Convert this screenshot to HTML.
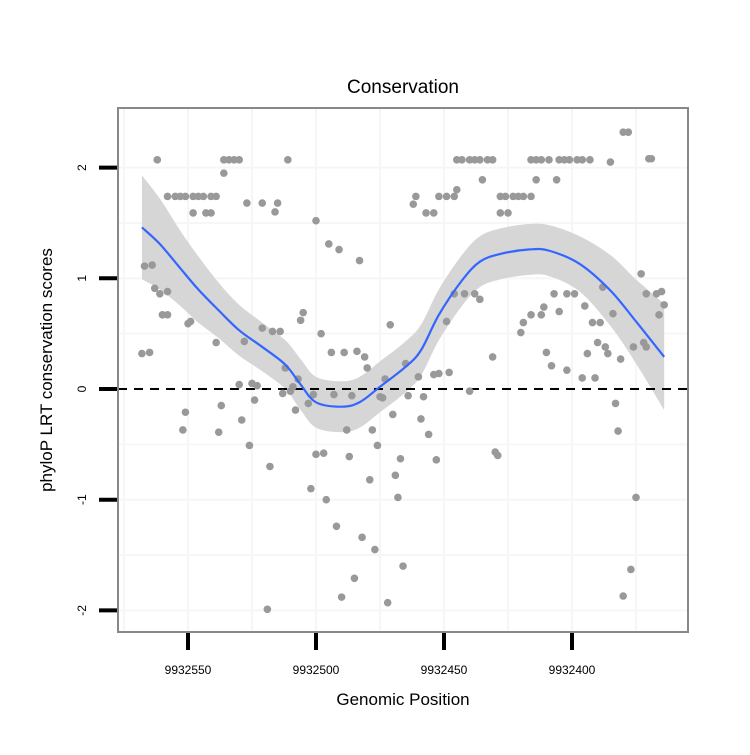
<!DOCTYPE html>
<html><head><meta charset="utf-8"><style>
body{margin:0;background:#fff;width:750px;height:750px;overflow:hidden}
svg text{font-family:"Liberation Sans",sans-serif}
</style></head><body>
<svg id="chart" width="750" height="750" xmlns="http://www.w3.org/2000/svg">
<g id="grid"></g>
<g id="band"></g>
<g id="zero"></g>
<g id="pts"></g>
<g id="fit"></g>
<rect x="118" y="108" width="570" height="524" fill="none" stroke="#888" stroke-width="2"/>
<g id="axes"></g>
<text x="403" y="93" font-size="19" text-anchor="middle">Conservation</text>
<text x="403" y="705" font-size="17" text-anchor="middle">Genomic Position</text>
<text transform="translate(52,370) rotate(-90)" font-size="17" text-anchor="middle">phyloP LRT conservation scores</text>
</svg>
<script>
const xTicks=[9932550,9932500,9932450,9932400];
const yTicks=[-2,-1,0,1,2];
const pointPos=[9932562,9932536,9932534,9932532,9932530,9932536,9932558,9932555,9932553,9932551,9932548,9932546,9932544,9932541,9932539,9932548,9932543,9932541,9932527,9932521,9932515,9932516,9932511,9932500,9932567,9932564,9932563,9932561,9932558,9932560,9932558,9932550,9932549,9932568,9932565,9932539,9932528,9932521,9932517,9932514,9932505,9932506,9932512,9932530,9932525,9932523,9932513,9932510,9932509,9932507,9932524,9932501,9932503,9932508,9932551,9932537,9932529,9932552,9932538,9932526,9932518,9932500,9932502,9932519,
9932445,9932443,9932440,9932438,9932436,9932433,9932431,9932435,9932461,9932462,9932452,9932449,9932446,9932445,9932457,9932454,9932495,9932491,9932483,9932498,9932471,9932446,9932442,9932438,9932436,9932449,9932431,9932494,9932489,9932484,9932481,9932480,9932473,9932465,9932460,9932454,9932452,9932448,9932440,9932493,9932486,9932475,9932474,9932464,9932458,9932470,9932459,9932456,9932488,9932478,9932476,9932497,9932487,9932467,9932453,9932430,9932429,9932496,9932469,9932479,9932468,9932492,9932482,9932477,9932466,9932485,9932490,9932472,
9932416,9932414,9932412,9932409,9932405,9932403,9932401,9932398,9932396,9932393,9932385,9932380,9932378,9932369,9932370,9932414,9932406,9932428,9932426,9932423,9932421,9932419,9932416,9932428,9932425,9932373,9932388,9932407,9932402,9932399,9932371,9932367,9932365,9932411,9932412,9932416,9932364,9932366,9932405,9932395,9932384,9932419,9932420,9932392,9932389,9932390,9932387,9932386,9932376,9932372,9932371,9932410,9932408,9932394,9932381,9932402,9932396,9932391,9932383,9932382,9932375,9932377,9932380];
const pointScore=[2.07,2.07,2.07,2.07,2.07,1.95,1.74,1.74,1.74,1.74,1.74,1.74,1.74,1.74,1.74,1.59,1.59,1.59,1.68,1.68,1.68,1.60,2.07,1.52,1.11,1.12,0.91,0.86,0.88,0.67,0.67,0.59,0.61,0.32,0.33,0.42,0.43,0.55,0.52,0.52,0.69,0.62,0.19,0.04,0.05,0.03,-0.04,-0.02,0.02,0.09,-0.10,-0.05,-0.13,-0.19,-0.21,-0.15,-0.28,-0.37,-0.39,-0.51,-0.70,-0.59,-0.90,-1.99,
2.07,2.07,2.07,2.07,2.07,2.07,2.07,1.89,1.74,1.67,1.74,1.74,1.74,1.80,1.59,1.59,1.31,1.26,1.16,0.50,0.58,0.86,0.86,0.86,0.81,0.61,0.29,0.33,0.33,0.34,0.29,0.19,0.09,0.23,0.11,0.13,0.14,0.15,-0.02,-0.05,-0.06,-0.07,-0.08,-0.06,-0.07,-0.23,-0.27,-0.41,-0.37,-0.37,-0.51,-0.58,-0.61,-0.63,-0.64,-0.57,-0.60,-1.00,-0.78,-0.82,-0.98,-1.24,-1.34,-1.45,-1.60,-1.71,-1.88,-1.93,
2.07,2.07,2.07,2.07,2.07,2.07,2.07,2.07,2.07,2.07,2.05,2.32,2.32,2.08,2.08,1.89,1.89,1.74,1.74,1.74,1.74,1.74,1.74,1.59,1.59,1.04,0.92,0.86,0.86,0.86,0.86,0.86,0.88,0.74,0.67,0.67,0.76,0.67,0.70,0.75,0.68,0.60,0.51,0.60,0.60,0.42,0.38,0.32,0.38,0.42,0.38,0.33,0.21,0.32,0.27,0.17,0.10,0.10,-0.13,-0.38,-0.98,-1.63,-1.87];
const fitPos=[9932568,9932561,9932553,9932546,9932538,9932530,9932521,9932512,9932506,9932500,9932490,9932483,9932475,9932465,9932459,9932452,9932443,9932436,9932428,9932417,9932409,9932397,9932385,9932375,9932364];
const fitValue=[1.46,1.31,1.09,0.90,0.71,0.53,0.38,0.22,0.04,-0.12,-0.16,-0.12,0.02,0.20,0.35,0.67,0.98,1.15,1.22,1.26,1.25,1.13,0.89,0.61,0.29];
const fitSe=[0.47,0.41,0.34,0.30,0.25,0.23,0.22,0.22,0.23,0.23,0.23,0.23,0.23,0.23,0.23,0.23,0.23,0.23,0.23,0.23,0.23,0.25,0.32,0.38,0.48];

const NS="http://www.w3.org/2000/svg";
const X=v=>188+(9932550-v)*2.56;
const Y=v=>389-v*110.7;
function mk(tag,attrs,parent){const e=document.createElementNS(NS,tag);for(const k in attrs)e.setAttribute(k,attrs[k]);parent.appendChild(e);return e;}
function smooth(pts,move){let d=move?`M${pts[0][0]},${pts[0][1]}`:`L${pts[0][0]},${pts[0][1]}`;
for(let i=0;i<pts.length-1;i++){const p0=pts[Math.max(0,i-1)],p1=pts[i],p2=pts[i+1],p3=pts[Math.min(pts.length-1,i+2)];
const c1=[p1[0]+(p2[0]-p0[0])/6,p1[1]+(p2[1]-p0[1])/6],c2=[p2[0]-(p3[0]-p1[0])/6,p2[1]-(p3[1]-p1[1])/6];
d+=` C${c1[0]},${c1[1]} ${c2[0]},${c2[1]} ${p2[0]},${p2[1]}`;}return d;}
const grid=document.getElementById('grid');
const gxs=[9932575,9932550,9932525,9932500,9932475,9932450,9932425,9932400,9932375];
gxs.forEach(v=>{const x=X(v);if(x>118&&x<688){const l=mk('line',{x1:x,x2:x,y1:108,y2:632,stroke:'#f6f6f6','stroke-width':2},grid);

}});
[-2,-1.5,-1,-0.5,0.5,1,1.5,2].forEach(v=>{const l=mk('line',{x1:118,x2:688,y1:Y(v),y2:Y(v),stroke:'#f6f6f6','stroke-width':2},grid);

});
const upP=fitPos.map((p,i)=>[X(p),Y(fitValue[i]+fitSe[i])]);
const loP=fitPos.map((p,i)=>[X(p),Y(fitValue[i]-fitSe[i])]).reverse();
const band=mk('path',{d:smooth(upP,true)+smooth(loP,false)+'Z',fill:'#d6d6d6'},document.getElementById('band'));


const z=mk('line',{x1:118,x2:688,y1:Y(0),y2:Y(0),stroke:'#000','stroke-width':2,'stroke-dasharray':'9,7'},document.getElementById('zero'));


const pts=document.getElementById('pts');
pointPos.forEach((p,i)=>{const c=mk('circle',{cx:X(p),cy:Y(pointScore[i]),r:3.8,fill:'#999'},pts);

});
const fl=mk('path',{d:smooth(fitPos.map((p,i)=>[X(p),Y(fitValue[i])]),true),fill:'none',stroke:'#3366ff','stroke-width':2.2},document.getElementById('fit'));


const ax=document.getElementById('axes');
xTicks.forEach(v=>{const x=X(v);
const t=mk('line',{x1:x,x2:x,y1:633,y2:650,stroke:'#000','stroke-width':4},ax);


const l=mk('text',{x:x,y:674,'font-size':12,'text-anchor':'middle'},ax);l.textContent=v;

});
yTicks.forEach(v=>{const y=Y(v);
const t=mk('line',{x1:99,x2:117,y1:y,y2:y,stroke:'#000','stroke-width':4},ax);


const l=mk('text',{transform:`translate(86,${y}) rotate(-90)`,'font-size':12,'text-anchor':'middle'},ax);l.textContent=v;

});
</script>
</body></html>
